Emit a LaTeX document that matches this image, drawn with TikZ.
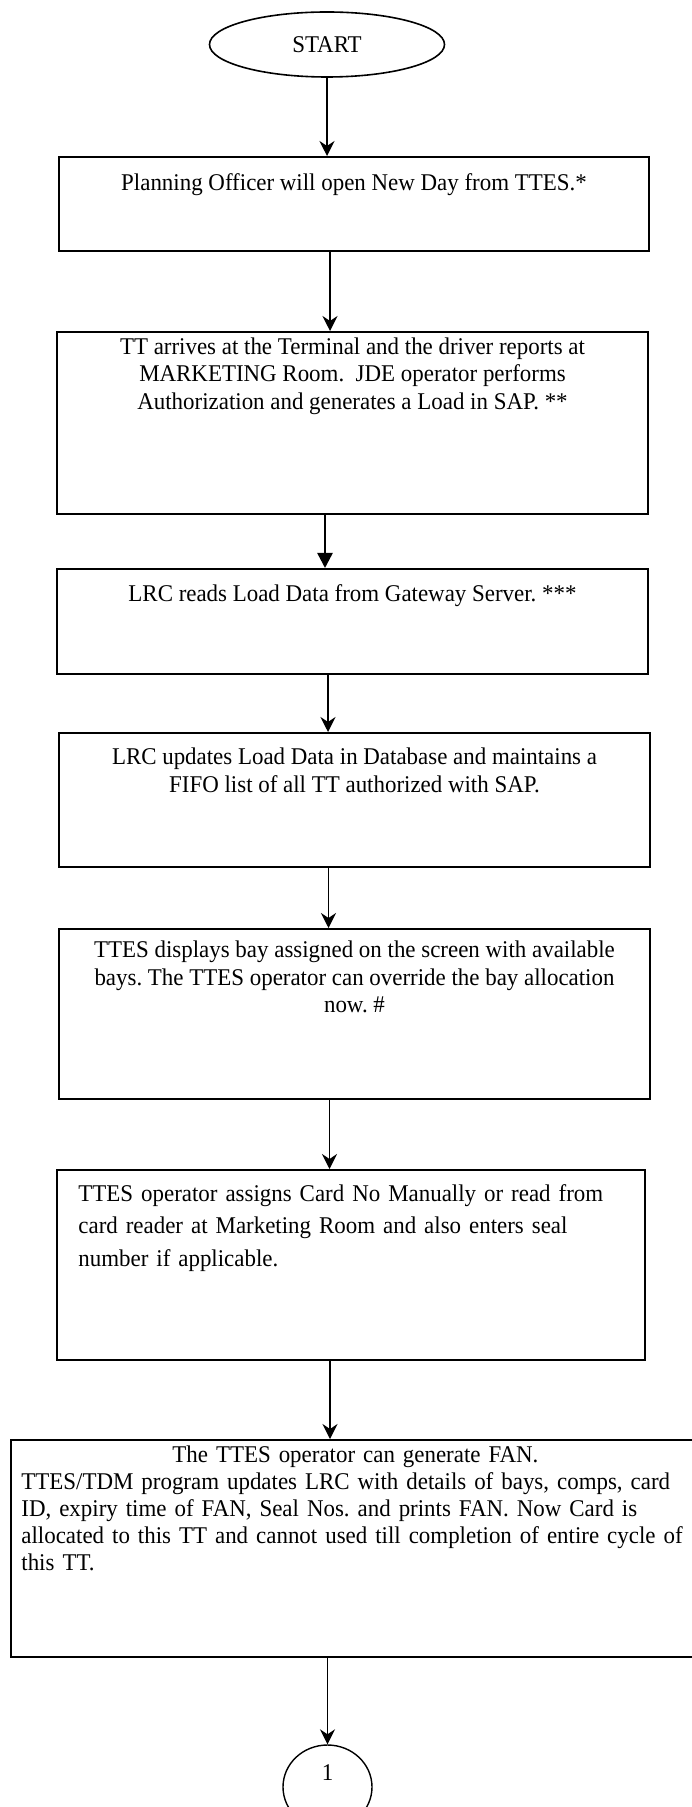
\documentclass[tikz,border=0pt]{standalone}
\usepackage{fontspec}
\setmainfont{Liberation Serif}[FakeStretch=0.955]
\usetikzlibrary{arrows.meta,shapes.geometric}
\frenchspacing
\begin{document}
\begin{tikzpicture}[x=0.5pt,y=-0.5pt,
  box/.style={draw, line width=1pt, rectangle, inner sep=0pt},
  txt/.style={inner sep=0pt, font=\fontsize{12pt}{13.8pt}\selectfont},
  arr/.style={line width=0.75pt, -{Stealth[length=7.5pt,width=7.5pt,inset=2.5pt]}},
  arrb/.style={line width=1.2pt, -{Triangle[length=7.5pt,width=7.5pt]}}]
\useasboundingbox (0,0) rectangle (691,1807);

% start terminal
\node[draw, ellipse, line width=0.8pt, minimum width=117.5pt, minimum height=32.5pt,
      inner sep=0pt, font=\fontsize{12pt}{13.8pt}\selectfont] (s) at (327,44.5) {START};

% process boxes
\node[box, minimum width=295pt, minimum height=47pt] (b1) at (354,204) {};
\node[txt, anchor=north, align=center] (t1) at ([yshift=-8pt]b1.north)
  {\rule{0pt}{9pt}Planning Officer will open New Day from TTES.*};

\node[box, minimum width=295.5pt, minimum height=91pt] (b2) at (352.5,423) {};
\node[txt, anchor=north, align=center] (t2) at ([yshift=-2.5pt]b2.north)
  {\rule{0pt}{9pt}TT arrives at the Terminal and the driver reports at\\
   MARKETING Room.\ \ JDE operator performs\\
   Authorization and generates a Load in SAP. **};

\node[box, minimum width=295.5pt, minimum height=52.5pt] (b3) at (352.5,621.5) {};
\node[txt, anchor=north, align=center] (t3) at ([yshift=-7.5pt]b3.north)
  {\rule{0pt}{9pt}LRC reads Load Data from Gateway Server. ***};

\node[box, minimum width=295.5pt, minimum height=67pt] (b4) at (354.5,800) {};
\node[txt, anchor=north, align=center] (t4) at ([yshift=-7pt]b4.north)
  {\rule{0pt}{9pt}LRC updates Load Data in Database and maintains a\\
   FIFO list of all TT authorized with SAP.};

\node[box, minimum width=295.5pt, minimum height=85pt] (b5) at (354.5,1014) {};
\node[txt, anchor=north, align=center] (t5) at ([yshift=-5.5pt]b5.north)
  {\rule{0pt}{9pt}TTES displays bay assigned on the screen with available\\
   bays. The TTES operator can override the bay allocation\\
   now. \#};

\node[box, minimum width=294pt, minimum height=95pt] (b6) at (351,1265) {};
\node[txt, anchor=north west, align=left, text width=280pt,
      font=\fontsize{12pt}{16.25pt}\selectfont] (t6) at ([xshift=11pt,yshift=-7pt]b6.north west)
  {\rule{0pt}{9pt}TTES operator assigns Card No Manually or read from\\
   card reader at Marketing Room and also enters seal\\
   number if applicable.};

\node[box, minimum width=347pt, minimum height=108.5pt] (b7) at (358,1548.5) {};
\node[txt, anchor=north west, align=left, text width=345pt,
      font=\fontsize{12pt}{13.5pt}\selectfont] (t7) at ([xshift=5.5pt,yshift=-2.5pt]b7.north west)
  {\makebox[334pt]{\rule{0pt}{9pt}The TTES operator can generate FAN.}\\
   TTES/TDM program updates LRC with details of bays, comps, card\\
   ID, expiry time of FAN, Seal Nos. and prints FAN. Now Card is\\
   allocated to this TT and cannot used till completion of entire cycle of\\
   this TT.};

% off-page connector
\node[draw, ellipse, line width=0.7pt, minimum width=44.5pt, minimum height=42pt,
      inner sep=0pt, text height=8pt, text depth=15pt,
      font=\fontsize{12pt}{13.8pt}\selectfont] (c1) at (327.5,1787) {1};

% connectors
\draw[arr] (s.south) -- (s.south |- b1.north);
\draw[arr] ([xshift=-12pt]b1.south) -- ([xshift=-12pt]b1.south |- b2.north);
\draw[arrb] ([xshift=-13.75pt]b2.south) -- ([xshift=-13.75pt]b2.south |- b3.north);
\draw[arr] ([xshift=-12.25pt]b3.south) -- ([xshift=-12.25pt]b3.south |- b4.north);
\draw[arr] ([xshift=-13pt]b4.south) -- ([xshift=-13pt]b4.south |- b5.north);
\draw[arr] ([xshift=-12.5pt]b5.south) -- ([xshift=-12.5pt]b5.south |- b6.north);
\draw[arr] ([xshift=-10.5pt]b6.south) -- ([xshift=-10.5pt]b6.south |- b7.north);
\draw[arr] (c1.north |- b7.south) -- (c1.north);
\end{tikzpicture}
\end{document}
